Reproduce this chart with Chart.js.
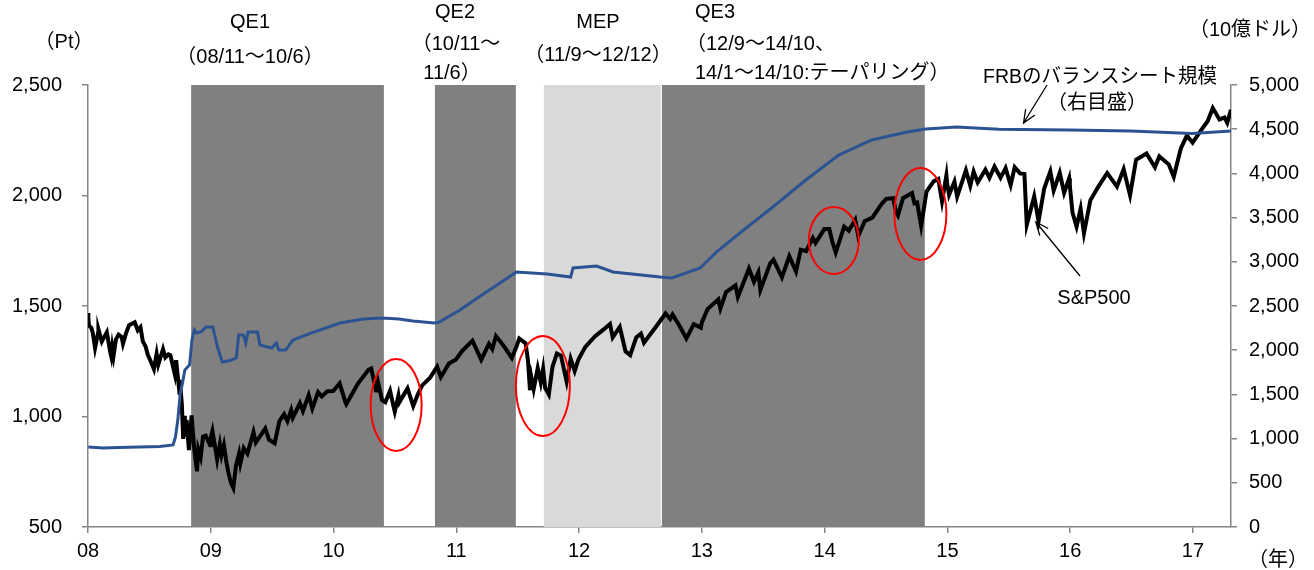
<!DOCTYPE html>
<html>
<head>
<meta charset="utf-8">
<script src="https://cdn.jsdelivr.net/npm/chart.js@4.4.1/dist/chart.umd.min.js"></script>
<style>
  html, body { margin: 0; padding: 0; background: #fff; }
  #wrap { width: 1314px; height: 570px; }
</style>
</head>
<body>
<div id="wrap"><canvas id="chart" width="1314" height="570"></canvas></div>
<script>
// S&P500 (Pt, left axis)
const spxDates = [
  '2008-01-01','2008-01-02','2008-01-04','2008-01-11','2008-01-15','2008-01-22','2008-01-31','2008-02-01','2008-02-11','2008-02-14','2008-02-26',
  '2008-03-07','2008-03-10','2008-03-13','2008-03-17','2008-03-24','2008-04-01','2008-04-10','2008-04-14','2008-04-23','2008-05-02',
  '2008-05-19','2008-05-28','2008-06-05','2008-06-12','2008-06-20','2008-06-27','2008-07-02','2008-07-15','2008-07-23','2008-07-28',
  '2008-08-11','2008-08-18','2008-08-27','2008-09-02','2008-09-15','2008-09-19','2008-09-29','2008-09-30','2008-10-06','2008-10-10',
  '2008-10-13','2008-10-15','2008-10-20','2008-10-27','2008-11-04','2008-11-12','2008-11-20','2008-11-24','2008-12-01','2008-12-08',
  '2008-12-16','2008-12-29','2008-12-31',
  '2009-01-06','2009-01-20','2009-01-28','2009-02-02','2009-02-09','2009-02-17','2009-02-23','2009-03-02','2009-03-09','2009-03-17',
  '2009-03-26','2009-03-30','2009-04-09','2009-04-20','2009-05-08','2009-05-15','2009-06-12','2009-06-23','2009-07-10','2009-07-24',
  '2009-08-07','2009-08-17','2009-08-28','2009-09-02','2009-09-23','2009-10-02','2009-10-19','2009-10-30','2009-11-16','2009-11-27',
  '2009-12-14','2009-12-31',
  '2010-01-19','2010-02-05','2010-02-08','2010-02-25','2010-03-15','2010-04-15','2010-04-23','2010-05-06','2010-05-07','2010-05-13',
  '2010-05-25','2010-06-04','2010-06-18','2010-06-29','2010-07-02','2010-07-13','2010-07-16','2010-08-09','2010-08-26','2010-09-08',
  '2010-09-21','2010-10-15','2010-11-05','2010-11-16','2010-12-10','2010-12-31',
  '2011-01-18','2011-02-18','2011-03-16','2011-04-08','2011-04-18','2011-04-29','2011-05-23','2011-06-15','2011-06-30','2011-07-07',
  '2011-07-26','2011-08-02','2011-08-08','2011-08-12','2011-08-19','2011-08-31','2011-09-09','2011-09-16','2011-09-22','2011-10-03',
  '2011-10-14','2011-10-27','2011-11-08','2011-11-25','2011-12-07','2011-12-19','2011-12-30',
  '2012-01-19','2012-02-17','2012-03-14','2012-04-02','2012-04-10','2012-05-01','2012-05-18','2012-06-01','2012-06-19','2012-07-03',
  '2012-07-12','2012-08-16','2012-09-14','2012-09-28','2012-10-05','2012-10-25','2012-11-15','2012-12-07','2012-12-28','2012-12-31',
  '2013-01-18','2013-02-19','2013-02-25','2013-03-14','2013-04-11','2013-04-18','2013-05-21','2013-06-05','2013-06-18','2013-06-24',
  '2013-07-23','2013-08-02','2013-08-27','2013-09-18','2013-10-08','2013-10-22','2013-11-07','2013-11-27','2013-12-05','2013-12-31',
  '2014-01-15','2014-01-24','2014-02-03','2014-02-28','2014-03-14','2014-04-02','2014-04-11','2014-04-30','2014-05-23','2014-06-20',
  '2014-07-03','2014-07-24','2014-07-31','2014-08-07','2014-08-22','2014-09-18','2014-09-25','2014-10-03','2014-10-15','2014-10-31',
  '2014-11-21','2014-12-05','2014-12-16','2014-12-29','2014-12-31',
  '2015-01-06','2015-01-22','2015-01-30','2015-02-25','2015-03-10','2015-03-20','2015-04-01','2015-04-24','2015-05-06','2015-05-21',
  '2015-06-08','2015-06-23','2015-07-08','2015-07-20','2015-08-05','2015-08-18','2015-08-25','2015-09-16','2015-09-29','2015-10-16',
  '2015-11-03','2015-11-13','2015-12-01','2015-12-14','2015-12-29','2015-12-31',
  '2016-01-08','2016-01-20','2016-02-01','2016-02-11','2016-03-01','2016-03-23','2016-04-20','2016-05-19','2016-06-08','2016-06-27',
  '2016-07-15','2016-08-15','2016-09-09','2016-09-22','2016-10-20','2016-11-04','2016-11-25','2016-12-13','2016-12-30',
  '2017-01-26','2017-02-14','2017-03-01','2017-03-21','2017-04-05','2017-04-13','2017-04-24'
];
const spxValues = [
  1468,1447,1411,1401,1380,1310,1378,1395,1339,1348,1381,
  1293,1273,1315,1276,1349,1370,1360,1329,1376,1413,
  1426,1390,1404,1340,1318,1278,1262,1214,1283,1235,
  1305,1267,1281,1277,1192,1255,1106,1166,1056,899,
  1003,908,985,848,1005,852,752,851,816,909,
  913,870,903,
  935,805,874,826,870,789,743,700,677,778,
  832,788,857,832,929,882,946,895,879,979,
  1010,979,1029,995,1061,1025,1097,1036,1110,1091,
  1114,1115,
  1150,1066,1056,1102,1150,1211,1217,1128,1110,1157,
  1074,1064,1117,1041,1022,1095,1065,1127,1047,1098,
  1140,1176,1225,1178,1240,1258,
  1296,1343,1257,1329,1305,1364,1317,1265,1321,1353,
  1331,1254,1119,1179,1124,1219,1154,1216,1129,1099,
  1225,1285,1276,1158,1261,1206,1258,
  1314,1362,1394,1419,1358,1405,1295,1278,1358,1375,
  1334,1405,1466,1441,1461,1412,1353,1418,1402,1426,
  1486,1530,1488,1563,1593,1541,1669,1609,1652,1573,
  1692,1710,1630,1725,1656,1755,1748,1808,1785,1848,
  1848,1790,1742,1859,1841,1890,1816,1884,1900,1963,
  1985,1988,1931,1910,1988,2011,1965,1968,1862,2018,
  2064,2075,1973,2091,2059,
  2003,2063,1995,2114,2044,2108,2059,2117,2080,2131,
  2080,2124,2047,2128,2100,2097,1868,1996,1884,2033,
  2109,2023,2103,2012,2078,2044,
  1922,1859,1940,1829,1978,2036,2102,2040,2119,2001,
  2162,2190,2128,2177,2141,2085,2213,2271,2239,
  2297,2337,2396,2344,2353,2329,2388
];

// FRB balance sheet (billion USD, right axis)
const frbDates = [
  '2008-01-02','2008-02-15','2008-04-01','2008-06-01','2008-08-01','2008-09-10','2008-09-17','2008-09-24','2008-10-01','2008-10-08',
  '2008-10-15','2008-10-29','2008-11-05','2008-11-12','2008-11-19','2008-12-03','2008-12-17','2009-01-07','2009-01-14','2009-01-21',
  '2009-02-04','2009-02-25','2009-03-18','2009-03-25','2009-04-08','2009-04-15','2009-04-22','2009-05-20','2009-05-27','2009-07-01',
  '2009-07-15','2009-07-22','2009-08-12','2009-09-02','2009-10-28','2010-01-20','2010-03-31','2010-05-26','2010-07-14','2010-08-25',
  '2010-10-27','2010-11-10','2011-01-12','2011-03-09','2011-06-29','2011-09-28','2011-12-07','2011-12-14','2012-02-22','2012-04-11',
  '2012-08-29','2012-10-03','2012-12-26','2013-02-13','2013-04-24','2013-07-31','2013-11-06','2014-02-12','2014-05-21','2014-09-03',
  '2014-10-29','2015-01-28','2015-06-03','2015-12-30','2016-06-29','2016-12-28','2017-04-26'
];
const frbValues = [
  905,895,900,905,910,928,1018,1210,1500,1629,
  1776,1833,2115,2229,2195,2210,2262,2262,2149,2036,
  1866,1880,1912,2172,2172,2081,2206,2206,2059,2025,
  2081,2002,2002,2115,2195,2308,2353,2364,2353,2330,
  2308,2315,2455,2602,2885,2862,2828,2930,2952,2885,
  2828,2817,2930,3110,3326,3620,3925,4208,4378,4468,
  4502,4525,4500,4490,4480,4450,4480
];

// policy periods (decimal years)
const periodNames = ['QE1', 'QE2', 'MEP', 'QE3'];
const periodStart = [2008.84, 2010.826, 2011.713, 2012.675];
const periodEnd   = [2010.41, 2011.485, 2012.666, 2014.816];
const periodLight = [false, false, true, false];

const yearTicks = [2008, 2009, 2010, 2011, 2012, 2013, 2014, 2015, 2016, 2017];

// red circles around the dips: centre in data units
const circleX = [2010.51, 2011.705, 2014.075, 2014.78];
const circleY = [1052, 1138, 1796, 1916];
const circleRx = [25.5, 27, 25, 26];
const circleRy = [46, 50, 33.5, 46];

function toYear(s) {
  const p = s.split('-').map(Number);
  const d0 = Date.UTC(p[0], 0, 1);
  const d = Date.UTC(p[0], p[1] - 1, p[2]);
  return p[0] + (d - d0) / 86400000 / 365;
}

const FONT = '"Liberation Sans", Arial, "Noto Sans CJK JP", sans-serif';
const AXIS_GREY = '#868686';

const spxPoints = spxDates.map((d, i) => ({ x: toYear(d), y: spxValues[i] }));
const frbPoints = frbDates.map((d, i) => ({ x: toYear(d), y: frbValues[i] }));

const shadePlugin = {
  id: 'shade',
  beforeDatasetsDraw(chart) {
    const { ctx, chartArea, scales } = chart;
    ctx.save();
    periodStart.forEach((s, i) => {
      const x1 = scales.x.getPixelForValue(s);
      const x2 = scales.x.getPixelForValue(periodEnd[i]);
      ctx.fillStyle = periodLight[i] ? '#d9d9d9' : '#808080';
      ctx.fillRect(x1, chartArea.top, x2 - x1, chartArea.bottom - chartArea.top);
    });
    ctx.restore();
  }
};

function arrow(ctx, x1, y1, x2, y2) {
  const a = Math.atan2(y2 - y1, x2 - x1);
  const h = 14;
  ctx.beginPath();
  ctx.moveTo(x1, y1);
  ctx.lineTo(x2, y2);
  ctx.moveTo(x2 - h * Math.cos(a - 0.4), y2 - h * Math.sin(a - 0.4));
  ctx.lineTo(x2, y2);
  ctx.lineTo(x2 - h * Math.cos(a + 0.4), y2 - h * Math.sin(a + 0.4));
  ctx.stroke();
}

const notePlugin = {
  id: 'notes',
  afterDraw(chart) {
    const { ctx, scales } = chart;
    const xs = scales.x, yl = scales.y, yr = scales.y1;
    ctx.save();

    // circles
    ctx.strokeStyle = '#ff0000';
    ctx.lineWidth = 2;
    circleX.forEach((cx, i) => {
      ctx.beginPath();
      ctx.ellipse(xs.getPixelForValue(cx), yl.getPixelForValue(circleY[i]), circleRx[i], circleRy[i], 0, 0, Math.PI * 2);
      ctx.stroke();
    });

    // texts
    ctx.fillStyle = '#000';
    ctx.font = '20px ' + FONT;
    ctx.textBaseline = 'middle';
    const put = (t, x, y, align, w) => {
      ctx.textAlign = align || 'center';
      if (w) ctx.fillText(t, x, y, w); else ctx.fillText(t, x, y);
    };
    put('（Pt）', 64, 42);
    put('QE1', 250, 22);
    put('（08/11～10/6）', 250, 57);
    put('QE2', 455, 12);
    put('（10/11～', 456, 44);
    put('11/6）', 452, 73);
    put('MEP', 598, 22);
    put('（11/9～12/12）', 598, 55);
    put('QE3', 695, 12, 'left');
    put('（12/9～14/10、', 686, 44, 'left');
    put('14/1～14/10:テーパリング）', 695, 73, 'left', 282);
    put('（10億ドル）', 1250, 30);
    put('FRBのバランスシート規模', 983, 77, 'left', 234);
    put('（右目盛）', 1097, 103);
    put('S&P500', 1094, 298);
    put('（年）', 1278, 560);

    // pointer arrows
    ctx.strokeStyle = '#000';
    ctx.lineWidth = 1.3;
    arrow(ctx, 1047, 85, xs.getPixelForValue(2015.62), yr.getPixelForValue(4570));
    arrow(ctx, 1080, 276, xs.getPixelForValue(2015.72), yl.getPixelForValue(1880));
    ctx.restore();
  }
};

new Chart(document.getElementById('chart'), {
  type: 'line',
  data: {
    datasets: [
      {
        label: 'FRBのバランスシート規模',
        data: frbPoints,
        yAxisID: 'y1',
        borderColor: '#2c5391',
        borderWidth: 3,
        pointRadius: 0,
        tension: 0
      },
      {
        label: 'S&P500',
        data: spxPoints,
        yAxisID: 'y',
        borderColor: '#000000',
        borderWidth: 4,
        pointRadius: 0,
        tension: 0
      }
    ]
  },
  options: {
    responsive: false,
    animation: false,
    layout: { padding: { top: 85, left: 0, right: 0, bottom: 0 } },
    plugins: { legend: { display: false }, tooltip: { enabled: false } },
    scales: {
      x: {
        type: 'linear',
        min: 2008,
        max: 2017.31,
        afterBuildTicks(scale) { scale.ticks = yearTicks.map(v => ({ value: v })); },
        afterFit(scale) { scale.height = 43; },
        ticks: {
          color: '#000',
          font: { family: FONT, size: 20 },
          padding: 6,
          maxRotation: 0,
          callback: v => String(v).slice(2)
        },
        grid: { drawOnChartArea: false, drawTicks: true, tickLength: 6, color: AXIS_GREY, lineWidth: 1.5 },
        border: { color: AXIS_GREY, width: 1.5 }
      },
      y: {
        position: 'left',
        min: 500,
        max: 2500,
        afterFit(scale) { scale.width = 88; },
        ticks: {
          stepSize: 500,
          color: '#000',
          font: { family: FONT, size: 20 },
          padding: 20,
          callback: v => v.toLocaleString('en-US')
        },
        grid: { drawOnChartArea: false, drawTicks: true, tickLength: 6, color: AXIS_GREY, lineWidth: 1.5 },
        border: { color: AXIS_GREY, width: 1.5 }
      },
      y1: {
        position: 'right',
        min: 0,
        max: 5000,
        afterFit(scale) { scale.width = 83; },
        ticks: {
          stepSize: 500,
          color: '#000',
          font: { family: FONT, size: 20 },
          padding: 12,
          callback: v => v.toLocaleString('en-US')
        },
        grid: { drawOnChartArea: false, drawTicks: true, tickLength: 6, color: AXIS_GREY, lineWidth: 1.5 },
        border: { color: AXIS_GREY, width: 1.5 }
      }
    }
  },
  plugins: [shadePlugin, notePlugin]
});
</script>
</body>
</html>
